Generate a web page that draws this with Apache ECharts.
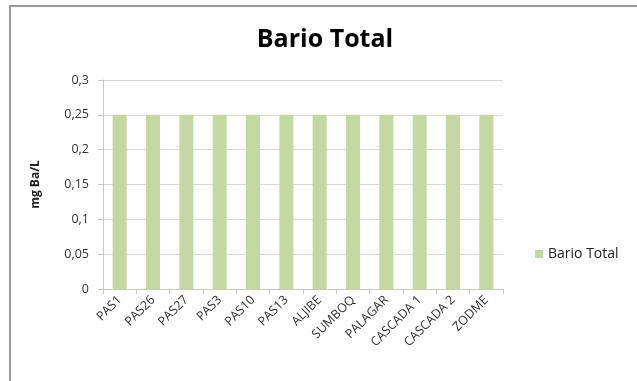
<!DOCTYPE html>
<html>
<head>
<meta charset="utf-8">
<style>
  html, body { margin: 0; padding: 0; background: #ffffff; }
  #chart { width: 637px; height: 381px; }
</style>
<script src="https://cdn.jsdelivr.net/npm/echarts@6/dist/echarts.min.js"></script>
</head>
<body>
<div id="chart"></div>
<script>
// Sampling stations and total barium concentration (mg Ba/L)
const categories = ['PAS1', 'PAS26', 'PAS27', 'PAS3', 'PAS10', 'PAS13', 'ALJIBE', 'SUMBOQ', 'PALAGAR', 'CASCADA 1', 'CASCADA 2', 'ZODME'];
const barioTotal = [0.25, 0.25, 0.25, 0.25, 0.25, 0.25, 0.25, 0.25, 0.25, 0.25, 0.25, 0.25];
const yTicks = [0, 0.05, 0.1, 0.15, 0.2, 0.25, 0.3];

const chart = echarts.init(document.getElementById('chart'));
const font = '"Open Sans", Calibri, "Liberation Sans", sans-serif';

chart.setOption({
  animation: false,
  backgroundColor: '#ffffff',
  graphic: [{
    type: 'rect',
    shape: { x: 10, y: 6, width: 640, height: 400 },
    style: { fill: 'none', stroke: '#9a9a9a', lineWidth: 2 },
    silent: true
  }],
  title: {
    text: 'Bario Total',
    left: 320,
    top: 22,
    textAlign: 'center',
    textStyle: { fontFamily: font, fontSize: 25, fontWeight: 'bold', color: '#000000' }
  },
  legend: {
    left: 530,
    top: 242,
    itemWidth: 8,
    itemHeight: 8,
    itemGap: 5,
    icon: 'rect',
    textStyle: { fontFamily: font, fontSize: 14, color: '#222222' },
    data: ['Bario Total']
  },
  grid: { left: 103, right: 134, top: 80, bottom: 92 },
  xAxis: {
    type: 'category',
    data: categories,
    axisLine: { lineStyle: { color: '#c8ccc0', width: 1 } },
    axisTick: { show: true, alignWithLabel: false, length: 5, lineStyle: { color: '#c8ccc0' } },
    axisLabel: {
      rotate: 45,
      interval: 0,
      margin: 9,
      fontFamily: font,
      fontSize: 12.5,
      color: '#333333'
    }
  },
  yAxis: {
    type: 'value',
    min: 0,
    max: 0.3,
    interval: 0.05,
    name: 'mg Ba/L',
    nameLocation: 'middle',
    nameGap: 61,
    nameRotate: 90,
    nameTextStyle: { fontFamily: font, fontSize: 12, fontWeight: 'bold', color: '#222222' },
    axisLine: { show: true, lineStyle: { color: '#c8ccc0' } },
    axisTick: { show: true, length: 5, lineStyle: { color: '#c8ccc0' } },
    splitLine: { lineStyle: { color: '#d9d9d9', width: 1 } },
    axisLabel: {
      fontFamily: font,
      fontSize: 12.5,
      color: '#333333',
      margin: 14,
      formatter: function (v) {
        const t = yTicks.find(function (x) { return Math.abs(x - v) < 1e-9; });
        return String(t !== undefined ? t : v).replace('.', ',');
      }
    }
  },
  series: [{
    name: 'Bario Total',
    type: 'bar',
    data: barioTotal,
    barWidth: 14,
    itemStyle: { color: '#c6d8a2' }
  }]
});
</script>
</body>
</html>
